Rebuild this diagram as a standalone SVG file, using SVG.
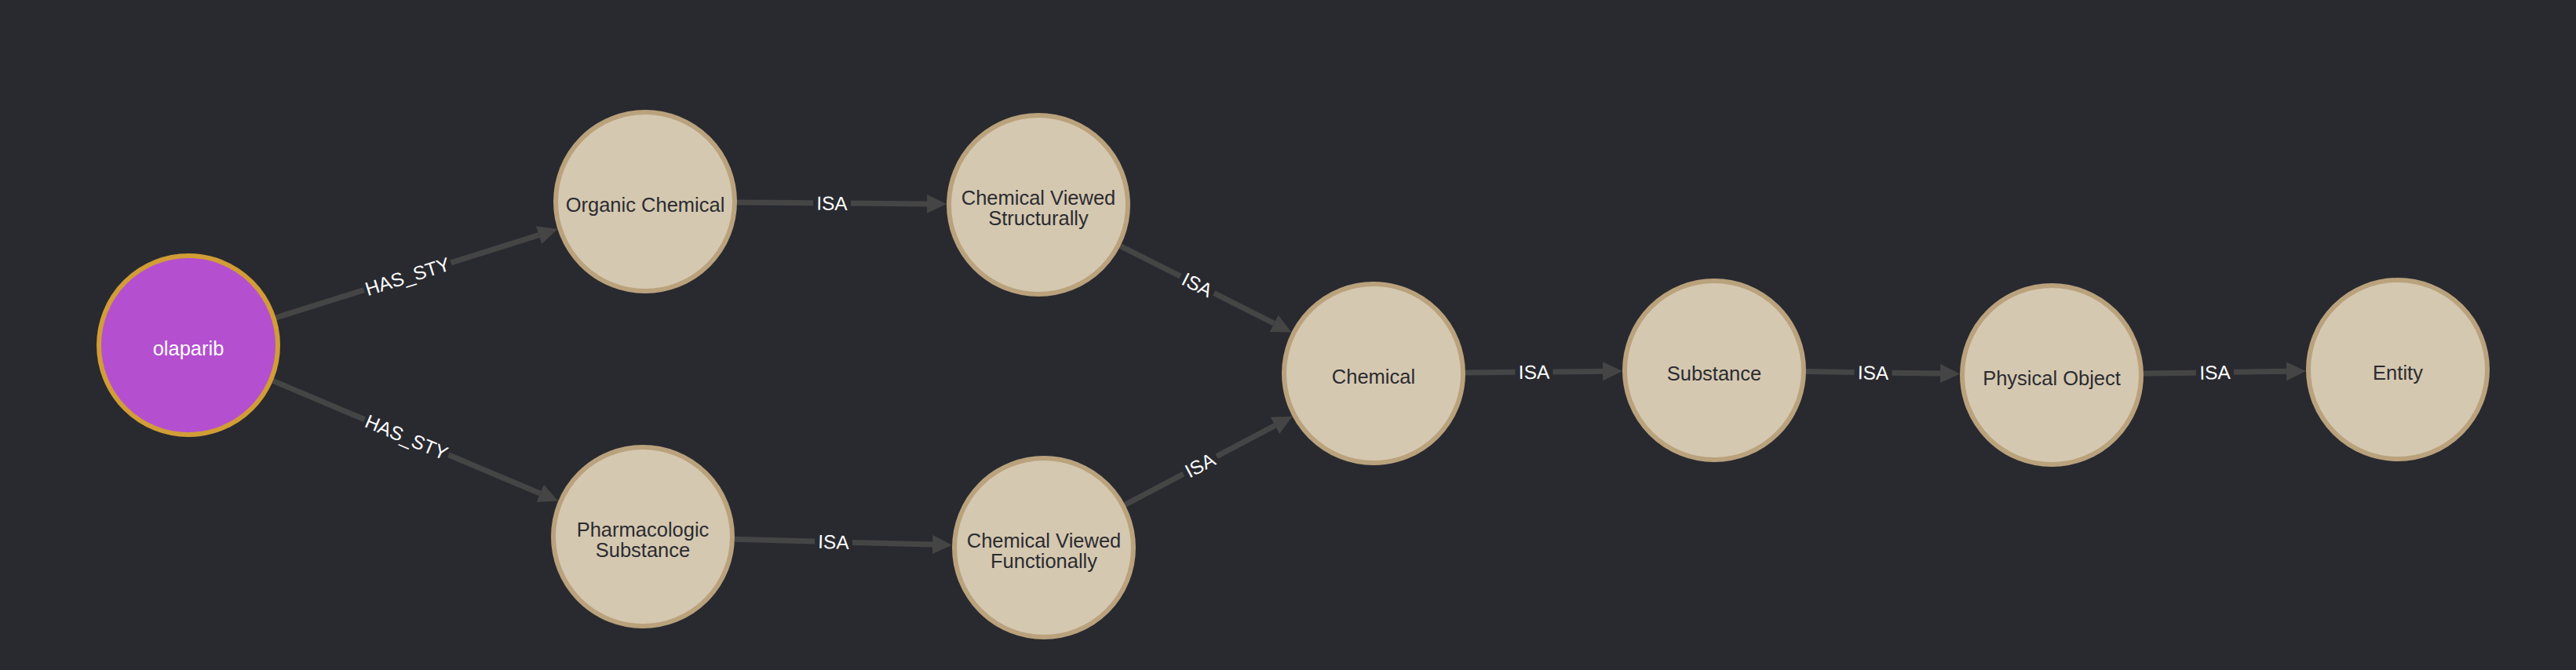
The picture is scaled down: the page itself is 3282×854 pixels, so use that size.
<svg xmlns="http://www.w3.org/2000/svg" width="3282" height="854" viewBox="0 0 3282 854">
<defs>
<style>
.bg{fill:#292a30}
.node circle{fill:#d5c8b0;stroke:#b9a27c;stroke-width:6}
#n-olaparib circle{fill:#b44fd0;stroke:#d19d36}
.node text{font-family:"Liberation Sans",Arial,Helvetica,sans-serif;font-size:25.5px;fill:#2b2c31;text-anchor:middle}
#n-olaparib text{fill:#ffffff}
.edge{fill:none;stroke:#454545;stroke-width:7;marker-end:url(#arrow)}
.lbl{font-family:"Liberation Sans",Arial,Helvetica,sans-serif;font-size:24.5px;fill:#ffffff;text-anchor:middle}
</style>
<marker id="arrow" markerUnits="userSpaceOnUse" markerWidth="28" markerHeight="28" viewBox="0 -14 28 28" refX="0" refY="0" orient="auto">
<path d="M0,-12 L25,0 L0,12 Z" fill="#454545"/>
</marker>
</defs>
<rect class="bg" x="0" y="0" width="3282" height="854"/>
<g id="connectors">
<path class="edge" d="M351.6,404.9 L463.8,369.6 M574.4,334.8 L686.5,299.6"/>
<text class="lbl" transform="translate(519.1,352.2) rotate(-17.45)" y="8.7">HAS_STY</text>
<path class="edge" d="M347.8,485.4 L464.6,534.7 M571.4,579.7 L688.2,628.9"/>
<text class="lbl" transform="translate(518,557.2) rotate(22.85)" y="8.7">HAS_STY</text>
<path class="edge" d="M939,257.9 L1036,258.7 M1084,259.1 L1181,259.9"/>
<text class="lbl" transform="translate(1060,258.9) rotate(0.46)" y="8.7">ISA</text>
<path class="edge" d="M936,687.2 L1038,690 M1086,691.4 L1188,694.1"/>
<text class="lbl" transform="translate(1062,690.7) rotate(1.57)" y="8.7">ISA</text>
<path class="edge" d="M1427.5,313.6 L1504,352.1 M1546.8,373.7 L1623.2,412.2"/>
<text class="lbl" transform="translate(1525.4,362.9) rotate(26.73)" y="8.7">ISA</text>
<path class="edge" d="M1433.4,643.3 L1507.8,604.1 M1550.2,581.7 L1624.5,542.4"/>
<text class="lbl" transform="translate(1529,592.9) rotate(-27.86)" y="8.7">ISA</text>
<path class="edge" d="M1867,474.9 L1930.5,474.3 M1978.5,473.9 L2042,473.3"/>
<text class="lbl" transform="translate(1954.5,474.1) rotate(-0.53)" y="8.7">ISA</text>
<path class="edge" d="M2301,473.6 L2362.5,474.5 M2410.5,475.2 L2472,476.1"/>
<text class="lbl" transform="translate(2386.5,474.9) rotate(0.8)" y="8.7">ISA</text>
<path class="edge" d="M2731,476.1 L2798,475.1 M2846,474.3 L2913,473.3"/>
<text class="lbl" transform="translate(2822,474.7) rotate(-0.91)" y="8.7">ISA</text>
</g>
<g id="n-olaparib" class="node"><circle cx="240" cy="440" r="114"/><text x="240" y="453">olaparib</text></g>
<g id="n-organic-chemical" class="node"><circle cx="822" cy="257" r="114"/><text x="822" y="269.5">Organic Chemical</text></g>
<g id="n-chemical-viewed-structurally" class="node"><circle cx="1323" cy="261" r="114"/><text x="1323" y="261">Chemical Viewed</text><text x="1323" y="286.5">Structurally</text></g>
<g id="n-pharmacologic-substance" class="node"><circle cx="819" cy="684" r="114"/><text x="819" y="684">Pharmacologic</text><text x="819" y="709.5">Substance</text></g>
<g id="n-chemical-viewed-functionally" class="node"><circle cx="1330" cy="698" r="114"/><text x="1330" y="698">Chemical Viewed</text><text x="1330" y="723.5">Functionally</text></g>
<g id="n-chemical" class="node"><circle cx="1750" cy="476" r="114"/><text x="1750" y="488.5">Chemical</text></g>
<g id="n-substance" class="node"><circle cx="2184" cy="472" r="114"/><text x="2184" y="484.5">Substance</text></g>
<g id="n-physical-object" class="node"><circle cx="2614" cy="478" r="114"/><text x="2614" y="490.5">Physical Object</text></g>
<g id="n-entity" class="node"><circle cx="3055" cy="471" r="114"/><text x="3055" y="483.5">Entity</text></g>
</svg>
